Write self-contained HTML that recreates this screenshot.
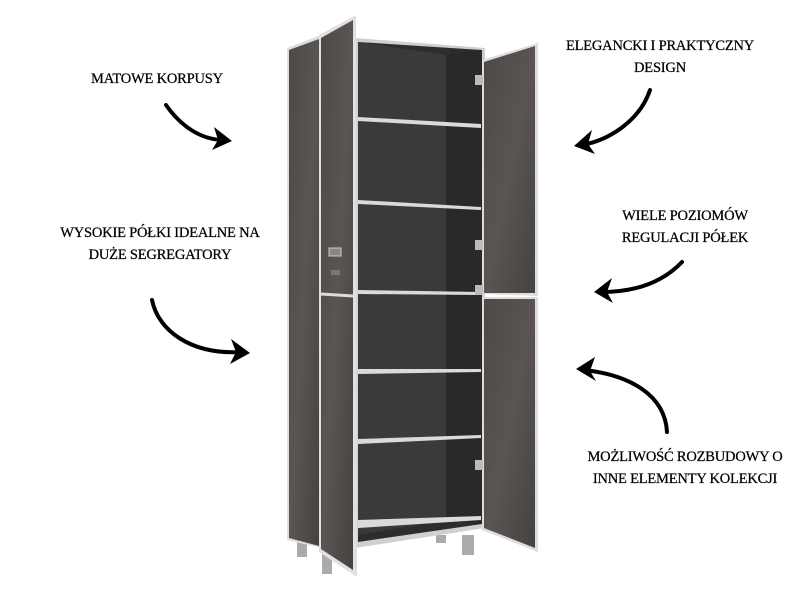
<!DOCTYPE html>
<html><head><meta charset="utf-8"><style>
body{margin:0;background:#fff;width:800px;height:600px;overflow:hidden;position:relative;font-family:"Liberation Serif","DejaVu Serif",serif;}
.t{position:absolute;font-size:14.5px;color:#000;text-align:center;line-height:22px;letter-spacing:-0.2px;-webkit-text-stroke:0.25px #000}
</style></head><body>
<svg width="800" height="600" style="position:absolute;left:0;top:0">
<defs>
<linearGradient id="g" x1="0" y1="0" x2="1" y2="1"><stop offset="0" stop-color="#4d4947"/><stop offset="0.5" stop-color="#5a5552"/><stop offset="1" stop-color="#46423f"/></linearGradient>
</defs>
<rect x="297" y="535" width="10" height="22" fill="#a9abae"/>
<rect x="322" y="540" width="10" height="34" fill="#a9abae"/>
<rect x="436" y="535" width="10" height="8" fill="#a9abae"/>
<rect x="462" y="535" width="12" height="20" fill="#a9abae"/>
<polygon points="287,48 321,35 321,548 287,540" fill="#ddd"/>
<polygon points="289,50 319,39 319,546 289,538" fill="url(#g)"/>
<polygon points="355,38 485,48 485,528 355,548" fill="#cfd0d2"/>
<polygon points="358,42 482,50 482,524 358,542" fill="#2e2d2e"/>
<polygon points="358,42 446,55 446,520 358,535" fill="#3a393b"/>
<polygon points="446,55 482,50 482,524 446,520" fill="#2a2828"/>
<g fill="#d9dadc">
<polygon points="358,117 481,124 481,128 358,121"/>
<polygon points="358,200 481,207 481,210 358,204"/>
<polygon points="358,290 481,292 481,295 358,294"/>
<polygon points="358,369 481,369 481,372 358,374"/>
<polygon points="358,439 481,435 481,438 358,444"/>
<polygon points="358,520 481,516 481,520 358,528"/>
</g>
<polygon points="319,35 356,15 357,577 319,552" fill="#e0e0e0"/>
<polygon points="321,38 353,20 353,570 321,549" fill="url(#g)"/>
<line x1="321" y1="294" x2="353" y2="296" stroke="#ddd" stroke-width="3"/>
<rect x="329" y="248" width="12" height="8" fill="#888" stroke="#ccc"/>
<rect x="331" y="270" width="9" height="5" fill="#777"/>
<polygon points="482,60 538,43 538,296 482,294" fill="#ddd"/>
<polygon points="484,62 535,46 535,293 484,293" fill="url(#g)"/>
<polygon points="482,297 538,297 538,552 482,530" fill="#ddd"/>
<polygon points="484,299 535,299 535,548 484,528" fill="url(#g)"/>
<g fill="#bbb"><rect x="475" y="75" width="8" height="10"/><rect x="475" y="240" width="8" height="10"/><rect x="475" y="285" width="8" height="10"/><rect x="475" y="460" width="8" height="10"/></g>
<g fill="none" stroke="#000" stroke-width="4" stroke-linecap="round" stroke-linejoin="round">
<path d="M166,105 C180,125 200,140 224,140"/>
<path d="M650,90 C640,120 610,140 582,145"/>
<path d="M152,300 C158,330 190,355 242,352"/>
<path d="M682,262 C660,285 630,292 602,292"/>
<path d="M667,432 C665,395 630,375 584,370"/>
</g>
<g fill="#000">
<polygon points="232,141 214,127 218,140 212,150"/>
<polygon points="574,146 592,130 588,144 595,154"/>
<polygon points="250,353 231,339 236,352 230,364"/>
<polygon points="594,292 612,278 607,292 613,303"/>
<polygon points="576,369 595,357 590,371 596,381"/>
</g>
</svg>
<div class="t" style="left:57px;top:68px;width:200px">MATOWE KORPUSY</div>
<div class="t" style="left:545px;top:35px;width:230px">ELEGANCKI I PRAKTYCZNY<br>DESIGN</div>
<div class="t" style="left:30px;top:222px;width:260px">WYSOKIE PÓŁKI IDEALNE NA<br>DUŻE SEGREGATORY</div>
<div class="t" style="left:580px;top:205px;width:210px">WIELE POZIOMÓW<br>REGULACJI PÓŁEK</div>
<div class="t" style="left:560px;top:446px;width:250px">MOŻLIWOŚĆ ROZBUDOWY O<br>INNE ELEMENTY KOLEKCJI</div>
</body></html>
